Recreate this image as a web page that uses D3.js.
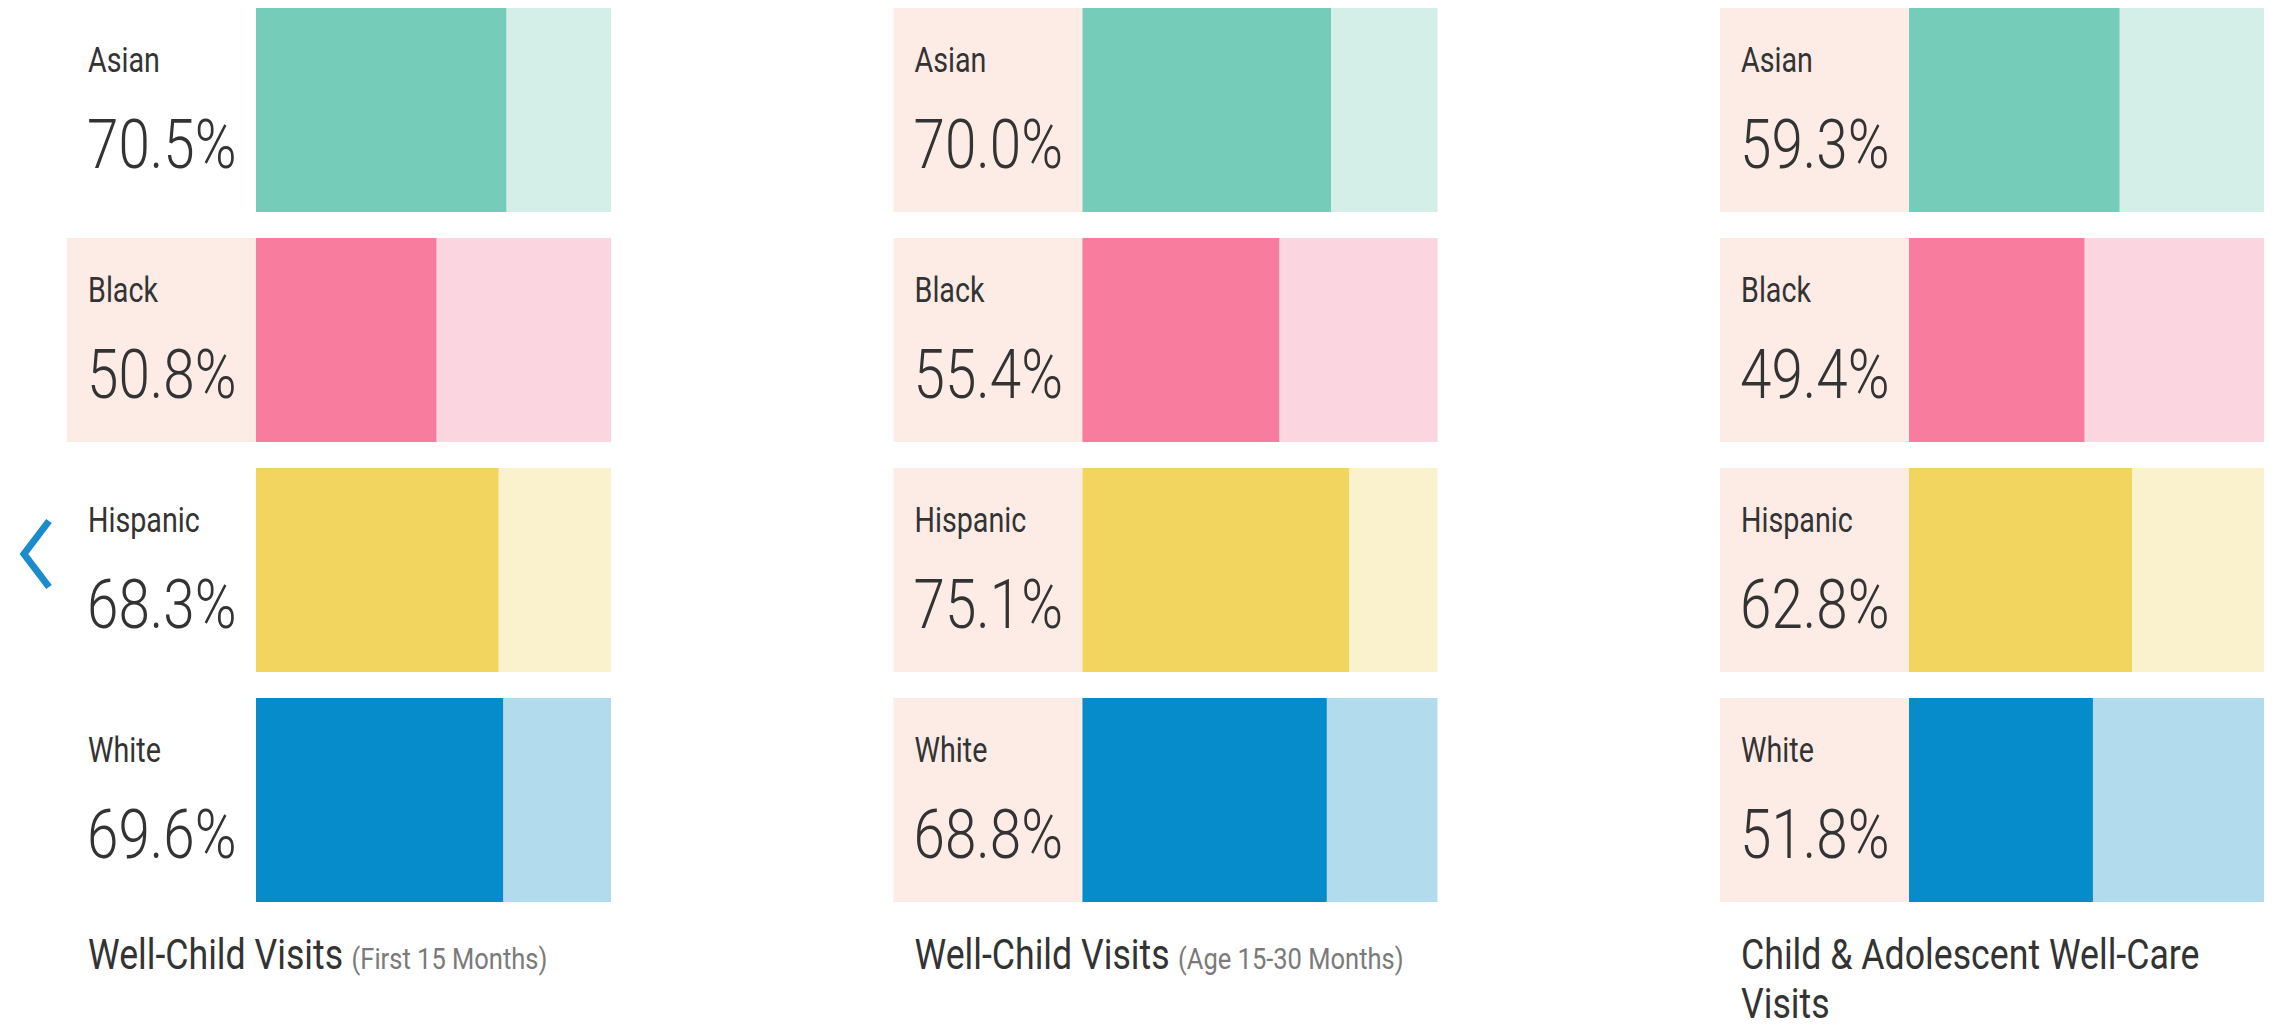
<!DOCTYPE html>
<html>
<head>
<meta charset="utf-8">
<script src="https://cdn.jsdelivr.net/npm/d3@7"></script>
<style>
  html, body { margin: 0; padding: 0; background: #ffffff; }
  svg { display: block; }
  text { font-family: Roboto, "Noto Sans", sans-serif; }
</style>
</head>
<body>
<svg id="chart" width="2275" height="1029"></svg>
<script>
// Groups shown in every panel, top to bottom
const groups = ["Asian", "Black", "Hispanic", "White"];

// Rates (%) per measure, in the order of `groups`
const wellChild15 = [70.5, 50.8, 68.3, 69.6];
const wellChild30 = [70.0, 55.4, 75.1, 68.8];
const adolescentWellCare = [59.3, 49.4, 62.8, 51.8];

// Measure titles: main text lines and a smaller qualifier
const titleLines = [
  ["Well-Child Visits"],
  ["Well-Child Visits"],
  ["Child & Adolescent Well-Care", "Visits"]
];
const titleQualifiers = ["(First 15 Months)", "(Age 15-30 Months)", ""];

// Which label cells carry the tinted background in each panel
const tintedCells = [
  [false, true, false, false],
  [true, true, true, true],
  [true, true, true, true]
];

const panelValues = [wellChild15, wellChild30, adolescentWellCare];

// Colour pairs per group: filled share and remaining share
const fullColor = { Asian: "#75cdb9", Black: "#f77c9d", Hispanic: "#f2d55e", White: "#068bcb" };
const restColor = { Asian: "#d4efe8", Black: "#fbd5df", Hispanic: "#faf1cd", White: "#b3dbee" };
const tint = "#fdece5";
const ink = "#333333";
const condense = 0.82;

const svg = d3.select("#chart");

// Layout
const panelLeft = 67, panelStep = 826.5;
const labelW = 189, barW = 355;

const y = d3.scaleBand()
  .domain(groups)
  .range([8, 902])
  .paddingInner(26 / 230)
  .paddingOuter(0);

const x = d3.scaleLinear().domain([0, 100]).range([0, barW]);

const panels = svg.selectAll("g.panel")
  .data(panelValues.map((vals, i) => ({ vals, i })))
  .join("g")
  .attr("class", "panel")
  .attr("transform", d => `translate(${panelLeft + d.i * panelStep},0)`);

panels.each(function(p) {
  const g = d3.select(this);
  const rows = g.selectAll("g.row")
    .data(groups.map((k, j) => ({ k, v: p.vals[j], tinted: tintedCells[p.i][j] })))
    .join("g")
    .attr("class", "row")
    .attr("transform", d => `translate(0,${y(d.k)})`);

  // label cell
  rows.append("rect")
    .attr("x", 0).attr("y", 0)
    .attr("width", labelW).attr("height", y.bandwidth())
    .attr("fill", d => d.tinted ? tint : "#ffffff");

  // remaining share (full 0–100 track)
  rows.append("rect")
    .attr("x", labelW + x(0)).attr("y", 0)
    .attr("width", x(100) - x(0)).attr("height", y.bandwidth())
    .attr("fill", d => restColor[d.k]);

  // measured share
  rows.append("rect")
    .attr("x", labelW + x(0)).attr("y", 0)
    .attr("width", d => x(d.v) - x(0)).attr("height", y.bandwidth())
    .attr("fill", d => fullColor[d.k]);

  // group name
  rows.append("text")
    .attr("transform", `translate(21,64) scale(${condense},1)`)
    .attr("font-size", 35)
    .attr("font-weight", 400)
    .attr("fill", ink)
    .text(d => d.k);

  // rate
  rows.append("text")
    .attr("transform", `translate(20,160) scale(${condense},1)`)
    .attr("font-size", 69)
    .attr("font-weight", 300)
    .attr("fill", ink)
    .text(d => d3.format(".1f")(d.v) + "%");

  // measure title
  const lines = titleLines[p.i];
  lines.forEach((line, li) => {
    const t = g.append("text")
      .attr("transform", `translate(21,${969 + li * 49}) scale(0.85,1)`)
      .attr("font-size", 42)
      .attr("font-weight", 400)
      .attr("fill", ink);
    t.append("tspan").text(line);
    if (li === lines.length - 1 && titleQualifiers[p.i]) {
      t.append("tspan")
        .attr("font-size", 30)
        .attr("fill", "#7a7a7a")
        .attr("dx", 10)
        .text(titleQualifiers[p.i]);
    }
  });
});

// previous-page chevron
svg.append("path")
  .attr("d", d3.line()([[49, 521], [24, 554], [49, 587]]))
  .attr("fill", "none")
  .attr("stroke", "#1a8bcb")
  .attr("stroke-width", 7)
  .attr("stroke-linejoin", "miter");
</script>
</body>
</html>
